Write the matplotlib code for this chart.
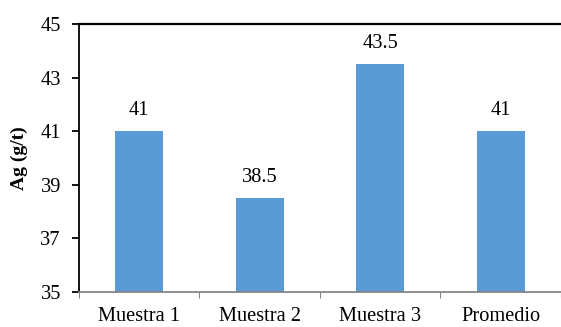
import matplotlib.pyplot as plt

categories = ["Muestra 1", "Muestra 2", "Muestra 3", "Promedio"]
ag_values = [41, 38.5, 43.5, 41]
value_labels = ["41", "38.5", "43.5", "41"]
y_ticks = [35, 37, 39, 41, 43, 45]

plt.rcParams["font.family"] = ["Liberation Serif", "DejaVu Serif"]

fig = plt.figure(figsize=(5.61, 3.27), dpi=100)
ax = fig.add_axes([0.1408, 0.107, 0.8592, 0.8196])

x = list(range(len(categories)))
bars = ax.bar(x, ag_values, width=0.4, color="#5B9BD5", bottom=0)
ax.bar_label(bars, labels=value_labels, padding=8, fontsize=14.7)

ax.set_xlim(-0.5, 3.5)
ax.set_ylim(35, 45)
ax.set_yticks(y_ticks)
ax.set_yticklabels([str(t) for t in y_ticks], fontsize=14.7)
ax.set_xticks(x)
ax.set_xticklabels(categories, fontsize=14.7)
ax.set_xticks([-0.5, 0.5, 1.5, 2.5, 3.5], minor=True)

ax.tick_params(axis="x", which="major", length=0, pad=11)
ax.tick_params(axis="x", which="minor", length=4, color="#868686", width=0.8)
ax.tick_params(axis="y", length=5, width=1.3, pad=8, color="black")

ax.spines["right"].set_visible(False)
ax.spines["top"].set_color("black")
ax.spines["top"].set_linewidth(1.6)
ax.spines["left"].set_linewidth(1.3)
ax.spines["bottom"].set_color("#868686")
ax.spines["bottom"].set_linewidth(1.3)

ax.set_ylabel("Ag (g/t)", fontsize=14, fontweight="bold")
ax.yaxis.set_label_coords(-0.105, 0.5)

fig.savefig("out.png", dpi=100)
